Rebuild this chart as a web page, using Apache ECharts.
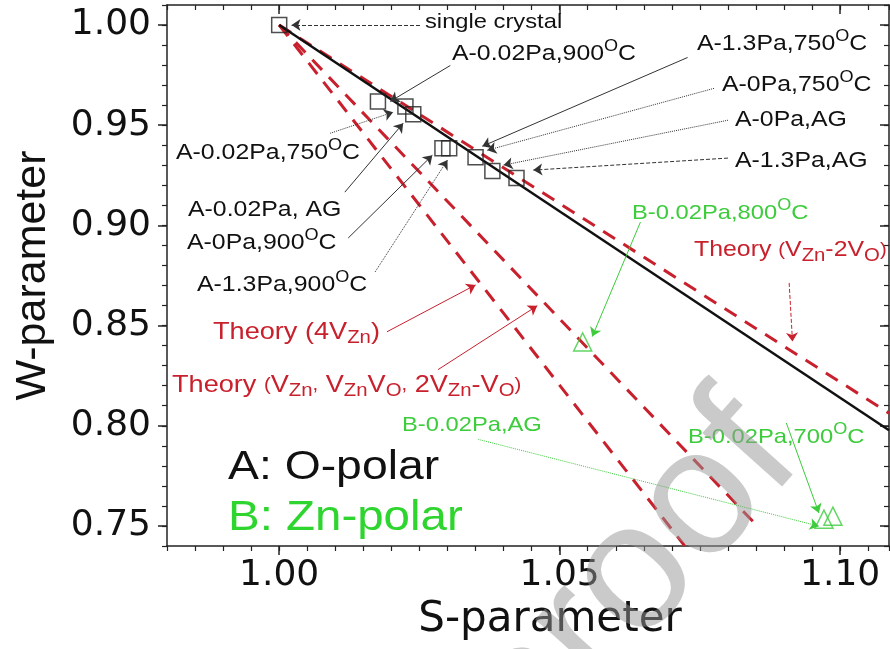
<!DOCTYPE html>
<html><head><meta charset="utf-8">
<script src="https://cdn.jsdelivr.net/npm/echarts@6/dist/echarts.min.js"></script>
<style>html,body{margin:0;padding:0;background:#fff}#c{width:890px;height:649px}</style>
</head><body><div id="c"></div>
<script>
// ---- data (S-parameter, W-parameter) ----
const sampleA = [[1.000,1.000],[1.0176,0.9619],[1.0225,0.9594],[1.0239,0.9555],[1.0291,0.9385],[1.0303,0.9385],[1.0350,0.9340],[1.0380,0.9271],[1.0423,0.9236]];
const sampleB = [[1.0541,0.8418],[1.0971,0.7534],[1.0987,0.7549]];
const fitLine = [[1.000,1.000],[1.1087,0.7978]];
const theoryVZn2VO = [[1.000,1.000],[1.1087,0.8063]];
const theoryMixed = [[1.000,1.000],[1.0846,0.7518]];
const theory4VZn = [[1.000,1.000],[1.0723,0.7400]];
const xTicks = [1.00,1.05,1.10];
const yTicks = [0.75,0.80,0.85,0.90,0.95,1.00];
// annotation arrows: [fromS, fromW, toS, toW, style]
const arrowsBlack = [
  [1.0251,1.0000,1.0022,1.0000,'dashed'],
  [1.0305,0.9798,1.0198,0.9619,'solid'],
  [1.0728,0.9838,1.0362,0.9395,'solid'],
  [1.0775,0.9684,1.0371,0.9375,'dotted'],
  [1.0800,0.9525,1.0400,0.9301,'dotted'],
  [1.0800,0.9336,1.0453,0.9276,'dashed'],
  [1.0091,0.9460,1.0203,0.9565,'dotted'],
  [1.0117,0.9166,1.0221,0.9510,'solid'],
  [1.0123,0.8937,1.0273,0.9350,'solid'],
  [1.0171,0.8768,1.0300,0.9326,'dotted']
];
const arrowsRed = [
  [1.0192,0.8469,1.0350,0.8703,'solid'],
  [1.0283,0.8280,1.0460,0.8599,'solid'],
  [1.0909,0.8713,1.0915,0.8420,'dashed']
];
const arrowsGreen = [
  [1.0644,0.9017,1.0558,0.8445,'solid'],
  [1.0355,0.7932,1.0962,0.7499,'dotted'],
  [1.0904,0.8014,1.0962,0.7565,'solid']
];

const RED = '#c8202c', GREEN = '#3ccc3c', FONT = 'Liberation Sans, Arial, sans-serif', WIDE = 'DejaVu Sans, sans-serif';
const xMin = 0.98, xMax = 1.1087, yMin = 0.74, yMax = 1.01;

function mk(list, color){
  return {
    silent:true, animation:false, symbol:['none','arrow'], symbolSize:9, label:{show:false},
    emphasis:{disabled:true},
    data: list.map(a => [
      {coord:[a[0],a[1]], lineStyle:{color:color, width:1, type:a[4]}},
      {coord:[a[2],a[3]]}
    ])
  };
}
function xAx(pos, major){
  const o = {type:'value', position:pos, min:xMin, max:xMax, splitLine:{show:false},
    axisLine:{show:!major, onZero:false, lineStyle:{color:'#222', width:1.5}}};
  if(major){
    o.axisTick = {show:true, inside:pos==='top', customValues:xTicks, length:9, lineStyle:{color:'#222', width:1.5}};
    o.axisLabel = {show:pos==='bottom', customValues:xTicks, formatter:v=>v.toFixed(2), fontSize:36, color:'#111', fontFamily:WIDE, margin:12};
    if(pos==='bottom'){ o.name='S-parameter'; o.nameLocation='middle'; o.nameGap=50; o.nameTextStyle={fontSize:42, color:'#111', fontFamily:WIDE, padding:[0,0,0,44]}; }
  } else {
    o.interval = 0.005;
    o.axisTick = {show:true, inside:pos==='top', length:5, lineStyle:{color:'#222', width:1.2}};
    o.axisLabel = {show:false};
  }
  return o;
}
function yAx(pos, major){
  const o = {type:'value', position:pos, min:yMin, max:yMax, splitLine:{show:false},
    axisLine:{show:!major, onZero:false, lineStyle:{color:'#222', width:1.5}}};
  if(major){
    o.axisTick = {show:true, inside:pos==='right', customValues:yTicks, length:9, lineStyle:{color:'#222', width:1.5}};
    o.axisLabel = {show:pos==='left', customValues:yTicks, formatter:v=>v.toFixed(2), fontSize:36, color:'#111', fontFamily:WIDE, margin:16};
    if(pos==='left'){ o.name='W-parameter'; o.nameLocation='middle'; o.nameGap=112; o.nameTextStyle={fontSize:43, color:'#111', fontFamily:FONT}; }
  } else {
    o.interval = 0.01;
    o.axisTick = {show:true, inside:pos==='right', length:5, lineStyle:{color:'#222', width:1.2}};
    o.axisLabel = {show:false};
  }
  return o;
}

const supsub = {
  s:{fontSize:16, lineHeight:14, verticalAlign:'top'},
  b:{fontSize:18, lineHeight:16, verticalAlign:'bottom'},
  p:{fontSize:18}
};
function txt(x, y, text, color, size){
  return {type:'text', x:x, y:y, z:50, silent:true, scaleX:1.13,
    style:{text:text, fill:color, fontSize:size||23, fontFamily:FONT, verticalAlign:'middle', lineHeight:30, rich:supsub}};
}

const graphics = [
  txt(425, 22, 'single crystal', '#111', 21),
  txt(452, 54, 'A-0.02Pa,900{s|O}C', '#111', 22),
  txt(697, 44, 'A-1.3Pa,750{s|O}C', '#111', 22),
  txt(722, 85, 'A-0Pa,750{s|O}C', '#111', 22),
  txt(735, 120, 'A-0Pa,AG', '#111', 22),
  txt(735, 161, 'A-1.3Pa,AG', '#111', 22),
  txt(176, 153, 'A-0.02Pa,750{s|O}C', '#111', 22),
  txt(188, 210, 'A-0.02Pa, AG', '#111', 22),
  txt(187, 243, 'A-0Pa,900{s|O}C', '#111', 22),
  txt(197, 285, 'A-1.3Pa,900{s|O}C', '#111', 22),
  txt(213, 332, 'Theory (4V{b|Zn})', RED, 24),
  txt(172, 385, 'Theory {p|(}V{b|Zn}{p|,} V{b|Zn}V{b|O}{p|,} 2V{b|Zn}-V{b|O}{p|)}', RED, 24),
  txt(694, 250, 'Theory {p|(}V{b|Zn}-2V{b|O}{p|)}', RED, 22),
  txt(632, 213, 'B-0.02Pa,800{s|O}C', GREEN, 21),
  txt(402, 425, 'B-0.02Pa,AG', GREEN, 21),
  txt(688, 437, 'B-0.02Pa,700{s|O}C', GREEN, 21),
  txt(228, 468, 'A: O-polar', '#111', 41),
  txt(228, 518, 'B: Zn-polar', '#2fd52f', 42),
  {type:'text', x:768, y:428, rotation:0.84, z:60, silent:true,
    style:{text:'Journal Pre-proof', fill:'rgba(150,150,150,0.5)', fontSize:180, fontFamily:FONT, align:'right', verticalAlign:'middle'}}
];

const chart = echarts.init(document.getElementById('c'), null, {renderer:'canvas'});
chart.setOption({
  animation:false,
  backgroundColor:'#fff',
  grid:{left:167, top:5, right:1, bottom:103, containLabel:false},
  xAxis:[xAx('bottom',false), xAx('bottom',true), xAx('top',false), xAx('top',true)],
  yAxis:[yAx('left',false), yAx('left',true), yAx('right',false), yAx('right',true)],
  graphic: graphics,
  series:[
    {type:'line', name:'fit', data:fitLine, showSymbol:false, symbol:'none', lineStyle:{color:'#111', width:2.5}, z:3,
     markLine: mk(arrowsBlack, '#333')},
    {type:'line', name:'VZn-2VO', data:theoryVZn2VO, symbol:'none', lineStyle:{color:RED, width:3, type:[14,10]}, z:2,
     markLine: mk(arrowsRed, RED)},
    {type:'line', name:'mixed', data:theoryMixed, symbol:'none', lineStyle:{color:RED, width:3, type:[14,10]}, z:2},
    {type:'line', name:'4VZn', data:theory4VZn, symbol:'none', lineStyle:{color:RED, width:3, type:[14,10]}, z:2},
    {type:'scatter', name:'A', data:sampleA, symbol:'rect', symbolSize:15, itemStyle:{color:'rgba(255,255,255,0)', borderColor:'#222', borderWidth:1.5}, z:4},
    {type:'scatter', name:'B', data:sampleB, symbol:'triangle', symbolSize:18, itemStyle:{color:'rgba(255,255,255,0)', borderColor:GREEN, borderWidth:1.5}, z:4,
     markLine: mk(arrowsGreen, GREEN)}
  ]
});
</script></body></html>
